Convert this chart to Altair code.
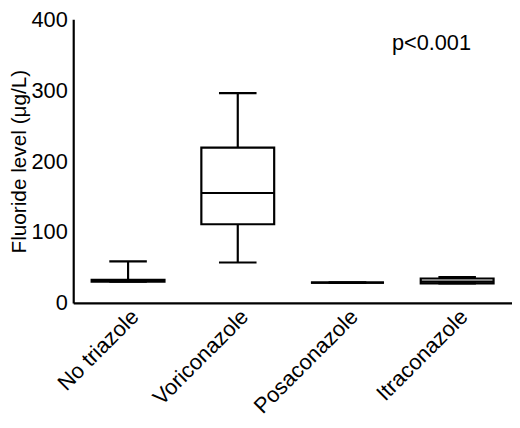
import altair as alt
import pandas as pd

# dati (µg/L)
gruppi = ["No triazole", "Voriconazole", "Posaconazole", "Itraconazole"]
minimo = [30, 57, 28.7, 27.7]
q1 = [30, 111, 28.7, 27.7]
mediana = [31, 155, 28.7, 30]
q3 = [32.5, 219, 28.7, 34.5]
massimo = [58.5, 296, 28.7, 36.3]

df = pd.DataFrame(
    {"Gruppo": gruppi, "min": minimo, "q1": q1, "med": mediana, "q3": q3, "max": massimo}
)
df_p = pd.DataFrame({"Gruppo": ["Itraconazole"], "y": [357], "testo": ["p<0.001"]})

FONT = "Liberation Sans"
LW = 2.2
TITOLO_Y = "Fluoride level (μg/L)"

x = alt.X(
    "Gruppo:N",
    sort=gruppi,
    title=None,
    scale=alt.Scale(paddingInner=0.336, paddingOuter=0.168),
    axis=alt.Axis(labelAngle=-45, labelFontSize=22, labelPadding=3),
)
y_scale = alt.Scale(domain=[0, 400], nice=False)
y_axis = alt.Axis(values=[0, 100, 200, 300, 400], labelFontSize=22, labelPadding=6)

base = alt.Chart(df).encode(x=x)

# baffi
baffo_basso = base.mark_rule(color="black", strokeWidth=LW).encode(
    y=alt.Y("min:Q", scale=y_scale, title=TITOLO_Y, axis=y_axis), y2="q1:Q"
)
baffo_alto = base.mark_rule(color="black", strokeWidth=LW).encode(
    y=alt.Y("q3:Q", scale=y_scale, title=TITOLO_Y, axis=y_axis), y2="max:Q"
)

# scatola
scatola = base.mark_bar(fill="white", stroke="black", strokeWidth=LW).encode(
    y=alt.Y("q1:Q", scale=y_scale, title=TITOLO_Y, axis=y_axis), y2="q3:Q"
)

# mediana e cappucci dei baffi
mediana_tick = base.mark_tick(color="black", thickness=LW, size=74, opacity=1).encode(
    y=alt.Y("med:Q", scale=y_scale, title=TITOLO_Y, axis=y_axis)
)
cap_basso = base.mark_tick(color="black", thickness=LW, size=38, opacity=1).encode(
    y=alt.Y("min:Q", scale=y_scale, title=TITOLO_Y, axis=y_axis)
)
cap_alto = base.mark_tick(color="black", thickness=LW, size=38, opacity=1).encode(
    y=alt.Y("max:Q", scale=y_scale, title=TITOLO_Y, axis=y_axis)
)

testo_p = (
    alt.Chart(df_p)
    .mark_text(fontSize=22, font=FONT, color="black", baseline="alphabetic", dx=-26)
    .encode(
        x=alt.X("Gruppo:N", sort=gruppi),
        y=alt.Y("y:Q", scale=y_scale, title=TITOLO_Y, axis=y_axis),
        text="testo:N",
    )
)

chart = (
    alt.layer(baffo_basso, baffo_alto, scatola, mediana_tick, cap_basso, cap_alto, testo_p)
    .properties(
        width=444,
        height=287,
        autosize=alt.AutoSizeParams(type="none"),
        padding={"left": 66, "top": 9, "right": 0, "bottom": 116},
    )
    .configure_view(stroke=None)
    .configure_axis(
        grid=False,
        ticks=False,
        labelColor="black",
        labelFont=FONT,
        titleFont=FONT,
        titleFontSize=21,
        titleFontWeight="normal",
        titleColor="black",
        titlePadding=2,
        domainColor="black",
        domainWidth=LW,
    )
)

chart.save("out.html", embed_options={"renderer": "svg", "actions": False})
